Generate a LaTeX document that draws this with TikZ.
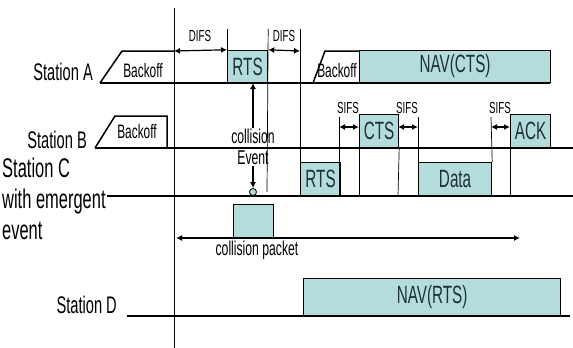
\documentclass[tikz,border=0pt]{standalone}
\usepackage{fontspec}
\newfontfamily\cond[FakeStretch=0.61]{Liberation Sans}
\definecolor{pktfill}{RGB}{180, 220, 220}
\definecolor{pkttext}{RGB}{30, 50, 55}
\usepackage{tikz}
\usetikzlibrary{arrows.meta, positioning, calc}
\newcommand{\fsz}[1]{\cond\fontsize{#1}{#1}\selectfont}
\newcommand{\fszl}[2]{\cond\fontsize{#1}{#2}\selectfont}

\begin{document}
\begin{tikzpicture}[x=1pt, y=-1pt,
    line/.style={line width=1.5pt},
    tick/.style={line width=0.7pt},
    pkt/.style={draw, line width=1.2pt, fill=pktfill, inner sep=0pt, anchor=south west, text=pkttext, font=\fsz{25}},
    stalbl/.style={font=\fsz{24}, anchor=east, inner sep=0pt},
    dim/.style={{Latex[length=6pt,width=6pt]}-{Latex[length=6pt,width=6pt]}, line width=1.2pt},
    gap/.style={font=\fsz{16}, inner sep=0pt}]
  \useasboundingbox (0,0) rectangle (573,348);

  % time origin
  \coordinate (t0) at (174,8);
  \coordinate (t1) at (174,348);
  \draw[tick] (t0) -- (t1);

  % Station A
  \node[stalbl] (staA) at (93,72) {Station A};
  \coordinate (a0) at (100,83);
  \coordinate (a1) at (550,83);
  \draw[line] (a0) -- (122,51) -- (174,51);
  \node[font=\fsz{19.5}, inner sep=0pt] (boA) at (143,71) {Backoff};
  \node[pkt, minimum width=40pt, minimum height=32pt] (rtsA) at (227,83) {RTS};
  \draw[tick] (rtsA.north west) -- ++(0,-21);
  \draw[tick] ($(rtsA.north east)+(0,-21)$) -- (267,192);
  \draw[dim] (174,51) -- (rtsA.north west);
  \draw[dim] (rtsA.north east) -- (300,51);
  \node[gap] (difs1) at (200,36) {DIFS};
  \node[gap] (difs2) at (284,36) {DIFS};
  \draw[line] (313,83) -- (325,51) -- (359,51);
  \node[pkt, minimum width=191pt, minimum height=32pt] (navA) at (359,83) {NAV(CTS)};
  \node[font=\fsz{19.5}, inner sep=0pt] (boA2) at (337,71) {Backoff};
  \draw[line] (a0) -- (a1);

  % Station B
  \node[stalbl] (staB) at (87,140) {Station B};
  \coordinate (b0) at (95,148);
  \coordinate (b1) at (573,148);
  \draw[line] (b0) -- (115,116) -- (167,116) -- (167,148);
  \node[font=\fsz{19.5}, inner sep=0pt] (boB) at (137,132) {Backoff};
  \node[pkt, minimum width=39pt, minimum height=33pt] (ctsB) at (359,148) {CTS};
  \node[pkt, minimum width=40pt, minimum height=33pt] (ackB) at (510,148) {ACK};
  \draw[line] (b0) -- (b1);

  % Station C
  \node[font=\fszl{27}{31}, align=left, anchor=west, inner sep=0pt] (staC) at (2,199) {Station C\\with emergent\\event};
  \coordinate (c0) at (107,196);
  \coordinate (c1) at (573,196);
  \node[pkt, minimum width=40pt, minimum height=33pt] (rtsC) at (300,196) {RTS};
  \node[pkt, minimum width=73pt, minimum height=33pt] (dataC) at (418,196) {Data};
  \draw[tick] ($(rtsC.north west)+(0,-133)$) -- (rtsC.north west);
  \draw[line] (c0) -- (c1);

  % SIFS gaps
  \coordinate (s1) at (339,117);
  \coordinate (s2) at (398,117);
  \coordinate (s3) at (491,117);
  \draw[tick] (s1) -- (339,196);
  \draw[tick] (ctsB.south west) -- (359,197);
  \draw[tick] (ctsB.south east) -- (398,196);
  \draw[tick] (418,117) -- (dataC.north west);
  \draw[tick] (s3) -- (dataC.north east);
  \draw[tick] (ackB.south west) -- (510,197);
  \draw[dim] (339,127) -- (359,127);
  \draw[dim] (398,127) -- (418,127);
  \draw[dim] (491,127) -- (510,127);
  \node[gap] (sifs1) at (348,108) {SIFS};
  \node[gap] (sifs2) at (407,108) {SIFS};
  \node[gap] (sifs3) at (500,108) {SIFS};

  % collision
  \node[font=\fszl{20}{21}, align=center, inner sep=1pt] (evt) at (253,147) {collision\\Event};
  \node[draw, circle, line width=0.8pt, fill=pktfill, minimum size=7pt, inner sep=0pt] (hitC) at (253,192) {};
  \coordinate (hitA) at (253,83);
  \draw[-{Latex[length=6pt,width=6pt]}, line width=1.2pt] (evt.north) -- (hitA);
  \draw[-{Latex[length=6pt,width=6pt]}, line width=1.2pt] (evt.south) -- (hitC.north);
  \node[pkt, minimum width=40pt, minimum height=33pt] (colP) at (233,238) {};
  \coordinate (w0) at (176,238);
  \coordinate (w1) at (520,238);
  \draw[dim] (w0) -- (w1);
  \node[font=\fsz{20}, inner sep=0pt] (colL) at (257,250) {collision packet};

  % Station D
  \node[stalbl] (staD) at (117,305) {Station D};
  \coordinate (d0) at (127,316);
  \coordinate (d1) at (570,316);
  \node[pkt, minimum width=257pt, minimum height=37pt] (navD) at (303,316) {NAV(RTS)};
  \draw[line] (d0) -- (d1);
\end{tikzpicture}
\end{document}
